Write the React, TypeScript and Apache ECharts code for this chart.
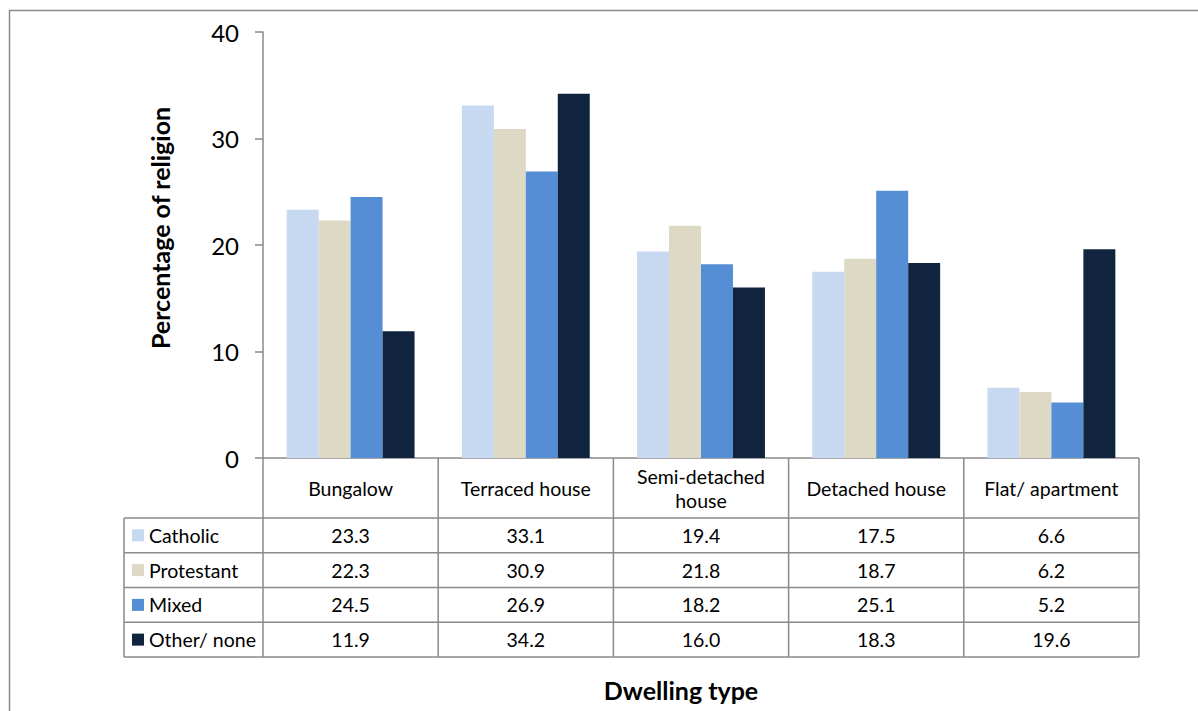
import React, { useEffect, useRef } from "react";
import * as echarts from "echarts";

const categories = ["Bungalow", "Terraced house", "Semi-detached\nhouse", "Detached house", "Flat/ apartment"];
const seriesNames = ["Catholic", "Protestant", "Mixed", "Other/ none"];
const catholic = [23.3, 33.1, 19.4, 17.5, 6.6];
const protestant = [22.3, 30.9, 21.8, 18.7, 6.2];
const mixed = [24.5, 26.9, 18.2, 25.1, 5.2];
const otherNone = [11.9, 34.2, 16.0, 18.3, 19.6];
const yTicks = [0, 10, 20, 30, 40];
const colors = ["#C6D9F1", "#DDD9C4", "#558ED5", "#10243F"];

const FONT = "Lato, 'Open Sans', sans-serif";

export default function App() {
  const ref = useRef<HTMLDivElement>(null);
  useEffect(() => {
    if (!ref.current) return;
    const chart = echarts.init(ref.current, undefined, { renderer: "svg" });
    const W = 1198, H = 711;
    const L = 263, R = 1139, T = 32, B = 458;
    const tableTop = 518, rowH = 34.75, legendLeft = 124;
    const tableBottom = tableTop + rowH * 4;
    const colW = (R - L) / categories.length;
    const data = [catholic, protestant, mixed, otherNone];
    const lineStyle = { stroke: "#8A8A8A", lineWidth: 1.5 };
    const graphic: any[] = [];
    graphic.push({ type: "rect", shape: { x: 9.5, y: 10.5, width: W + 20, height: H + 20 }, style: { fill: "none", stroke: "#8A8A8A", lineWidth: 1.5 }, silent: true });
    for (let i = 0; i <= categories.length; i++) {
      const x = L + i * colW;
      graphic.push({ type: "line", shape: { x1: x, y1: B, x2: x, y2: tableBottom }, style: lineStyle });
    }
    graphic.push({ type: "line", shape: { x1: legendLeft, y1: tableTop, x2: legendLeft, y2: tableBottom }, style: lineStyle });
    graphic.push({ type: "line", shape: { x1: L, y1: B, x2: R, y2: B }, style: lineStyle });
    for (let r = 0; r <= 4; r++) {
      const y = tableTop + r * rowH;
      graphic.push({ type: "line", shape: { x1: legendLeft, y1: y, x2: R, y2: y }, style: lineStyle });
    }
    for (let r = 0; r < 4; r++) {
      const cy = tableTop + r * rowH + rowH / 2;
      graphic.push({ type: "rect", shape: { x: 132, y: cy - 6, width: 12, height: 12 }, style: { fill: colors[r] } });
      graphic.push({ type: "text", x: 149, y: cy, style: { text: seriesNames[r], fontSize: 19.5, fontFamily: FONT, fill: "#000", textAlign: "left", textVerticalAlign: "middle" } });
      for (let c = 0; c < categories.length; c++) {
        graphic.push({ type: "text", x: L + c * colW + colW / 2, y: cy, style: { text: data[r][c].toFixed(1), fontSize: 19.5, fontFamily: FONT, fill: "#000", textAlign: "center", textVerticalAlign: "middle" } });
      }
    }
    graphic.push({ type: "text", x: 160, y: 228, rotation: Math.PI / 2, style: { text: "Percentage of religion", fontSize: 25, fontWeight: "bold", fontFamily: FONT, fill: "#000", textAlign: "center", textVerticalAlign: "middle" } });
    graphic.push({ type: "text", x: 681, y: 690, style: { text: "Dwelling type", fontSize: 25, fontWeight: "bold", fontFamily: FONT, fill: "#000", textAlign: "center", textVerticalAlign: "middle" } });

    chart.setOption({
      animation: false,
      backgroundColor: "#fff",
      textStyle: { fontFamily: FONT },
      grid: { left: L, right: W - R, top: T, bottom: H - B, containLabel: false },
      xAxis: {
        type: "category",
        data: categories,
        axisLine: { show: false },
        axisTick: { show: false },
        axisLabel: { interval: 0, margin: 30, verticalAlign: "middle", fontSize: 19.5, lineHeight: 24, color: "#000", fontFamily: FONT },
      },
      yAxis: {
        type: "value",
        min: yTicks[0],
        max: yTicks[yTicks.length - 1],
        interval: 10,
        axisLine: { show: true, lineStyle: { color: "#8A8A8A", width: 1.5 } },
        axisTick: { show: true, length: 8, lineStyle: { color: "#8A8A8A", width: 1.5 } },
        axisLabel: { fontSize: 24, color: "#000", margin: 24, fontFamily: FONT },
        splitLine: { show: false },
      },
      series: data.map((d, i) => ({
        name: seriesNames[i],
        type: "bar",
        data: d,
        barGap: "0%",
        barCategoryGap: "27%",
        itemStyle: { color: colors[i] },
      })),
      graphic,
    });
    return () => chart.dispose();
  }, []);
  return <div ref={ref} style={{ position: "absolute", left: 0, top: 0, width: 1198, height: 711 }} />;
}
